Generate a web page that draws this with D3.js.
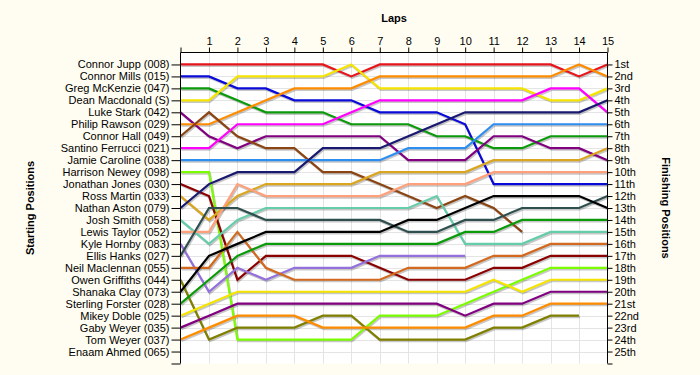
<!DOCTYPE html>
<html>
<head>
<meta charset="utf-8">
<script src="https://cdn.jsdelivr.net/npm/d3@7"></script>
<style>
  body { margin: 0; background: #fffdf2; }
  svg { display: block; font-family: "Liberation Sans", Arial, sans-serif; }
</style>
</head>
<body>
<div id="chart"></div>
<script>
// driver names in starting order
const drivers = [
  "Connor Jupp (008)", "Connor Mills (015)", "Greg McKenzie (047)", "Dean Macdonald (S)",
  "Luke Stark (042)", "Philip Rawson (029)", "Connor Hall (049)", "Santino Ferrucci (021)",
  "Jamie Caroline (038)", "Harrison Newey (098)", "Jonathan Jones (030)", "Ross Martin (033)",
  "Nathan Aston (079)", "Josh Smith (058)", "Lewis Taylor (052)", "Kyle Hornby (083)",
  "Ellis Hanks (027)", "Neil Maclennan (055)", "Owen Griffiths (044)", "Shanaka Clay (073)",
  "Sterling Forster (028)", "Mikey Doble (025)", "Gaby Weyer (035)", "Tom Weyer (037)",
  "Enaam Ahmed (065)"
];

const lineColors = [
  "#e8141c", "#0a0ad8", "#0a9a0a", "#f5e400", "#800080", "#ff8c00", "#8b4513", "#ff00ff",
  "#2e8ef0", "#7cfc00", "#8b0000", "#daa520", "#191970", "#66cdaa", "#ffa07a", "#9370db",
  "#2f4f4f", "#d2691e", "#808000", "#000000", "#0a9a0a", "#f5e400", "#800080", "#ff8c00",
  "#8b4513"
];

// position at lap 0 (grid) .. last lap completed
const positions = [
  [1, 1, 1, 1, 1, 1, 2, 1, 1, 1, 1, 1, 1, 1, 2, 1],
  [2, 2, 3, 3, 4, 4, 4, 5, 5, 5, 6, 11, 11, 11, 11, 11],
  [3, 3, 4, 5, 5, 5, 6, 6, 6, 7, 7, 8, 8, 7, 7, 7],
  [4, 4, 2, 2, 2, 2, 1, 3, 3, 3, 3, 3, 3, 4, 4, 3],
  [5, 7, 8, 7, 7, 7, 7, 7, 9, 9, 9, 7, 7, 8, 8, 9],
  [6, 6, 5, 4, 3, 3, 3, 2, 2, 2, 2, 2, 2, 2, 1, 2],
  [7, 5, 7, 8, 8, 10, 10, 11, 12, 13, 12, 13, 15],
  [8, 8, 6, 6, 6, 6, 5, 4, 4, 4, 4, 4, 4, 3, 3, 5],
  [9, 9, 9, 9, 9, 9, 9, 9, 8, 8, 8, 6, 6, 6, 6, 6],
  [10, 10, 24, 24, 24, 24, 24, 22, 22, 22, 21, 20, 19, 18, 18, 18],
  [11, 12, 19, 17, 17, 17, 17, 18, 19, 19, 19, 18, 18, 17, 17, 17],
  [12, 14, 12, 11, 11, 11, 11, 10, 10, 10, 10, 9, 9, 9, 9, 8],
  [13, 11, 10, 10, 10, 8, 8, 8, 7, 6, 5, 5, 5, 5, 5, 4],
  [14, 16, 14, 13, 13, 13, 13, 13, 13, 12, 16, 16, 16, 15, 15, 15],
  [15, 15, 11, 12, 12, 12, 12, 12, 11, 11, 11, 10, 10, 10, 10, 10],
  [16, 20, 18, 19, 18, 18, 18, 17, 17, 17, 17],
  [17, 13, 13, 14, 14, 14, 14, 14, 15, 15, 14, 14, 13, 13, 13, 12],
  [18, 18, 15, 18, 19, 19, 19, 19, 18, 18, 18, 17, 17, 16, 16, 16],
  [19, 24, 23, 23, 23, 22, 22, 24, 24, 24, 24, 23, 23, 22, 22],
  [20, 17, 16, 15, 15, 15, 15, 15, 14, 14, 13, 12, 12, 12, 12, 13],
  [21, 19, 17, 16, 16, 16, 16, 16, 16, 16, 15, 15, 14, 14, 14, 14],
  [22, 21, 20, 20, 20, 20, 20, 20, 20, 20, 20, 19, 20, 19, 19, 19],
  [23, 22, 21, 21, 21, 21, 21, 21, 21, 21, 22, 21, 21, 20, 20, 20],
  [24, 23, 22, 22, 22, 23, 23, 23, 23, 23, 23, 22, 22, 21, 21, 21],
  []
];

const lapCount = 15;
const finishLabels = d3.range(1, 26).map((n) => {
  const s = (n % 100 >= 11 && n % 100 <= 13) ? "th" : ({ 1: "st", 2: "nd", 3: "rd" }[n % 10] || "th");
  return n + s;
});

const width = 700, height = 375;
const plot = { left: 180.5, right: 607.5, top: 52.5, bottom: 363.5 };

const svg = d3.select("#chart").append("svg")
  .attr("width", width)
  .attr("height", height);

svg.append("rect").attr("width", width).attr("height", height).attr("fill", "#fffdf2");

const x = d3.scaleLinear().domain([0, lapCount]).range([plot.left, plot.right]);
const y = d3.scaleLinear().domain([0, 26]).range([plot.top, plot.bottom]);

// plot background
svg.append("rect")
  .attr("x", plot.left).attr("y", plot.top)
  .attr("width", plot.right - plot.left).attr("height", plot.bottom - plot.top)
  .attr("fill", "#ffffff");

// grid
const grid = svg.append("g").attr("stroke", "#e4e4e4").attr("stroke-width", 1);
grid.selectAll(".vgrid")
  .data(d3.range(1, lapCount))
  .join("line")
  .attr("x1", (d) => Math.round(x(d)) + 0.5).attr("x2", (d) => Math.round(x(d)) + 0.5)
  .attr("y1", plot.top).attr("y2", plot.bottom);
grid.selectAll(".hgrid")
  .data(d3.range(1, 26))
  .join("line")
  .attr("x1", plot.left).attr("x2", plot.right)
  .attr("y1", (d) => Math.round(y(d)) + 0.5).attr("y2", (d) => Math.round(y(d)) + 0.5);

const line = d3.line()
  .x((d, i) => x(i))
  .y((d) => y(d));

const series = drivers.map((name, i) => ({ name, color: lineColors[i], pos: positions[i] }))
  .filter((d) => d.pos.length > 1);

// shadows
svg.append("g")
  .attr("transform", "translate(1,1.5)")
  .selectAll("path")
  .data(series)
  .join("path")
  .attr("d", (d) => line(d.pos))
  .attr("fill", "none")
  .attr("stroke", "#000")
  .attr("stroke-opacity", 0.22)
  .attr("stroke-width", 2.2);

// lines
svg.append("g")
  .selectAll("path")
  .data(series)
  .join("path")
  .attr("d", (d) => line(d.pos))
  .attr("fill", "none")
  .attr("stroke", (d) => d.color)
  .attr("stroke-width", 2.2)
  .attr("stroke-linejoin", "miter");

// axes
const leftAxis = d3.axisLeft(y)
  .tickValues(d3.range(1, 27))
  .tickSize(9)
  .tickPadding(2)
  .tickFormat((d) => drivers[d - 1] || "");
const rightAxis = d3.axisRight(y)
  .tickValues(d3.range(1, 27))
  .tickSize(5)
  .tickPadding(2)
  .tickFormat((d) => finishLabels[d - 1] || "");
const topAxis = d3.axisTop(x)
  .tickValues(d3.range(0, lapCount + 1))
  .tickSize(5)
  .tickPadding(3)
  .tickFormat((d) => (d === 0 ? "" : d));

function styleAxis(g) {
  g.selectAll("text").attr("fill", "#000").style("font-size", "11px");
  g.selectAll("line").attr("stroke", "#000");
  g.select(".domain").attr("stroke", "#000");
}

svg.append("g").attr("transform", `translate(${plot.left},0)`).call(leftAxis).call(styleAxis)
  .call((g) => g.select(".domain").attr("d", `M0,${plot.top}V${plot.bottom}`));
svg.append("g").attr("transform", `translate(${plot.right},0)`).call(rightAxis).call(styleAxis)
  .call((g) => g.select(".domain").attr("d", `M0,${plot.top}V${plot.bottom}`));
svg.append("g").attr("transform", `translate(0,${plot.top})`).call(topAxis).call(styleAxis)
  .call((g) => g.select(".domain").attr("d", `M${plot.left},0H${plot.right}`));

// titles
svg.append("text")
  .attr("x", (plot.left + plot.right) / 2).attr("y", 22)
  .attr("text-anchor", "middle")
  .style("font-size", "11px").style("font-weight", "bold")
  .text("Laps");
svg.append("text")
  .attr("transform", `translate(34,${(plot.top + plot.bottom) / 2}) rotate(-90)`)
  .attr("text-anchor", "middle")
  .style("font-size", "11px").style("font-weight", "bold")
  .text("Starting Positions");
svg.append("text")
  .attr("transform", `translate(662,${(plot.top + plot.bottom) / 2}) rotate(90)`)
  .attr("text-anchor", "middle")
  .style("font-size", "11px").style("font-weight", "bold")
  .text("Finishing Positions");
</script>
</body>
</html>
